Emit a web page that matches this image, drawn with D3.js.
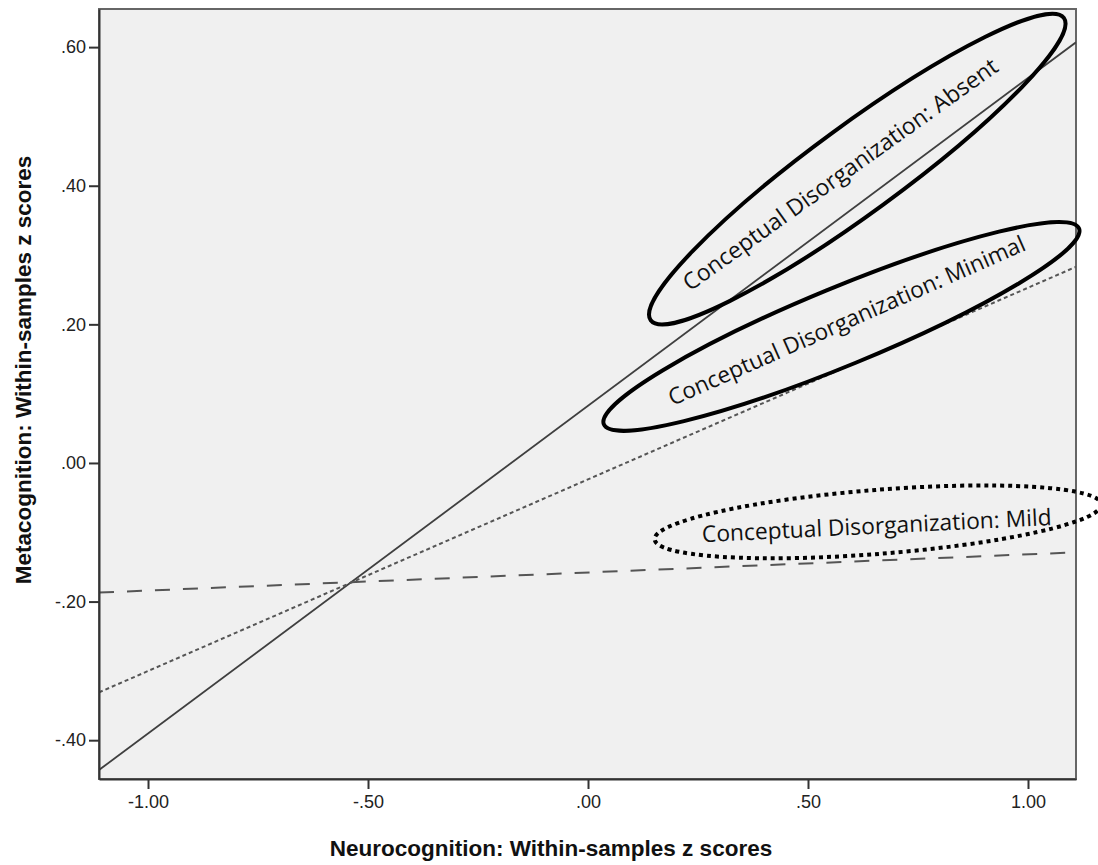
<!DOCTYPE html>
<html lang="en">
<head>
<meta charset="UTF-8">
<title>Metacognition by neurocognition</title>
<script src="https://cdnjs.cloudflare.com/ajax/libs/d3/7.8.5/d3.min.js"></script>
<style>
    body { margin: 0; background: #fff; }
    .tick text { font-family: "Liberation Sans", Arial, sans-serif; font-size: 18px; fill: #222; }
    .axis-title { font-family: "Liberation Sans", Arial, sans-serif; font-weight: bold; font-size: 22.5px; fill: #111; }
    .note { font-family: "Open Sans", "Noto Sans", sans-serif; fill: #111; }
</style>
</head>
<body>
<svg width="1098" height="865"></svg>
<script>
    // chart values
    var xDomain = [-1.1114, 1.1091];
    var yDomain = [-0.456, 0.655];
    var xTicks = [-1.0, -0.5, 0, 0.5, 1.0];
    var yTicks = [-0.4, -0.2, 0, 0.2, 0.4, 0.6];

    // fitted lines, value at left and right edge of the plot
    var lineX = [-1.1114, 1.1091];
    var absentY = [-0.443, 0.607];
    var minimalY = [-0.331, 0.283];
    var mildY = [-0.187, -0.129];

    var labels = ["Conceptual Disorganization: Absent",
                  "Conceptual Disorganization: Minimal",
                  "Conceptual Disorganization: Mild"];

    var svg = d3.select("svg");
    var pLeft = 99, pRight = 1076, pTop = 9, pBottom = 779;

    var x = d3.scaleLinear().domain(xDomain).range([pLeft, pRight]);
    var y = d3.scaleLinear().domain(yDomain).range([pBottom, pTop]);

    var fmt = function (d) {
        var s = Math.abs(d).toFixed(2).replace(/^0/, "");
        return (d < 0 ? "-" : "") + s;
    };

    // plot background + frame
    svg.append("rect")
        .attr("x", pLeft).attr("y", pTop)
        .attr("width", pRight - pLeft).attr("height", pBottom - pTop)
        .style("fill", "#f0f0f0")
        .style("stroke", "#666")
        .style("stroke-width", 2);

    svg.append("clipPath").attr("id", "plotClip")
        .append("rect")
        .attr("x", pLeft).attr("y", pTop)
        .attr("width", pRight - pLeft).attr("height", pBottom - pTop);

    var series = [
        {ys: absentY, dash: null, color: "#3f3f3f", width: 1.8},
        {ys: minimalY, dash: "4,3", color: "#555", width: 2},
        {ys: mildY, dash: "15,13", color: "#555", width: 2}
    ];

    var line = d3.line()
        .x(function (d) { return x(d[0]); })
        .y(function (d) { return y(d[1]); });

    svg.append("g").attr("clip-path", "url(#plotClip)")
        .selectAll("path")
        .data(series)
        .enter()
        .append("path")
        .attr("d", function (s) { return line(d3.zip(lineX, s.ys)); })
        .style("fill", "none")
        .style("stroke", function (s) { return s.color; })
        .style("stroke-width", function (s) { return s.width; })
        .style("stroke-dasharray", function (s) { return s.dash; });

    // axes
    var xAxis = svg.append("g")
        .attr("transform", "translate(0," + pBottom + ")")
        .call(d3.axisBottom(x).tickValues(xTicks).tickFormat(fmt)
            .tickSize(10).tickSizeOuter(0).tickPadding(6));
    var yAxis = svg.append("g")
        .attr("transform", "translate(" + pLeft + ",0)")
        .call(d3.axisLeft(y).tickValues(yTicks).tickFormat(fmt)
            .tickSize(10).tickSizeOuter(0).tickPadding(3));

    [xAxis, yAxis].forEach(function (a) {
        a.select(".domain").style("stroke", "#333").style("stroke-width", 2);
        a.selectAll(".tick line").style("stroke", "#333").style("stroke-width", 2);
    });

    svg.append("text")
        .attr("class", "axis-title")
        .attr("x", 551).attr("y", 856)
        .attr("text-anchor", "middle")
        .text("Neurocognition: Within-samples z scores");

    svg.append("text")
        .attr("class", "axis-title")
        .attr("transform", "translate(31,370) rotate(-90)")
        .attr("text-anchor", "middle")
        .text("Metacognition: Within-samples z scores");

    // annotation ovals, centred in data units
    var notes = [
        {label: labels[0], cx: 0.612, cy: 0.424, rx: 256, ry: 44, angle: -36.2,
         tx: 0.584, ty: 0.407, tAngle: -35.6, len: 381, dash: null},
        {label: labels[1], cx: 0.576, cy: 0.197, rx: 257, ry: 39, angle: -22.4,
         tx: 0.595, ty: 0.195, tAngle: -23.8, len: 388, dash: null},
        {label: labels[2], cx: 0.659, cy: -0.085, rx: 224, ry: 32, angle: -4.5,
         tx: 0.657, ty: -0.102, tAngle: -2.8, len: 350, dash: "4,4"}
    ];

    var noteG = svg.append("g");
    notes.forEach(function (n) {
        noteG.append("ellipse")
            .attr("transform", "translate(" + x(n.cx) + "," + y(n.cy) + ") rotate(" + n.angle + ")")
            .attr("rx", n.rx).attr("ry", n.ry)
            .style("fill", "none")
            .style("stroke", "#000")
            .style("stroke-width", 4)
            .style("stroke-dasharray", n.dash);

        var t = noteG.append("text")
            .attr("class", "note")
            .attr("transform", "translate(" + x(n.tx) + "," + y(n.ty) + ") rotate(" + n.tAngle + ")")
            .attr("text-anchor", "middle")
            .style("font-size", "20px")
            .text(n.label);
        // fit the font size to the width seen in the picture
        var w = t.node().getComputedTextLength();
        t.style("font-size", (20 * n.len / w) + "px");
    });
</script>
</body>
</html>
